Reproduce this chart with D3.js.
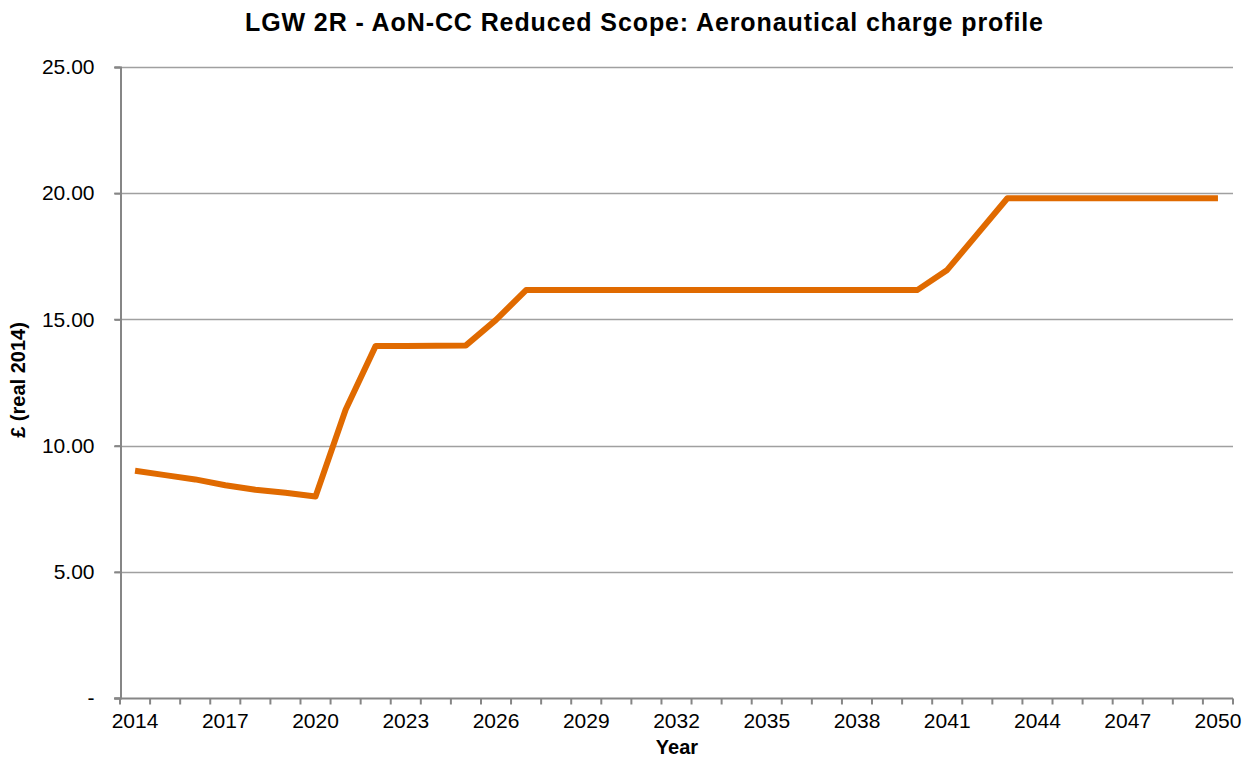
<!DOCTYPE html>
<html>
<head>
<meta charset="utf-8">
<script src="https://cdn.jsdelivr.net/npm/d3@7"></script>
<style>
	body { margin: 0; background: #fff; }
	svg { display: block; font-family: "Liberation Sans", Arial, sans-serif; }
</style>
</head>
<body>
<svg width="1249" height="760"></svg>
<script>
const lineColor = '#E06A00';
const gridColor = '#A0A0A0';
const axisColor = '#868686';

const years = d3.range(2014, 2051);
const charge = [
	9.00, 8.83, 8.66, 8.43, 8.25, 8.13, 7.98,
	11.42, 13.95, 13.95, 13.96, 13.97, 14.98, 16.16,
	16.16, 16.16, 16.16, 16.16, 16.16, 16.16, 16.16,
	16.16, 16.16, 16.16, 16.16, 16.16, 16.16, 16.96,
	18.38, 19.80, 19.80, 19.80, 19.80, 19.80, 19.80,
	19.80, 19.80
];
const yTicks = [0, 5, 10, 15, 20, 25];
const labelYears = years.filter((y) => (y - 2014) % 3 === 0);

const margin = { top: 67, right: 16, bottom: 62, left: 120 };
const svg = d3.select('svg');
const width = 1249;
const height = 760;
const plotW = width - margin.left - margin.right;
const plotH = height - margin.top - margin.bottom;

const x = d3.scaleBand()
	.domain(years)
	.range([margin.left, margin.left + plotW]);

const y = d3.scaleLinear()
	.domain([0, 25])
	.range([margin.top + plotH, margin.top]);

// gridlines
svg.append('g')
	.selectAll('line')
	.data(yTicks.filter((d) => d > 0))
	.enter()
		.append('line')
		.attr('x1', margin.left - 6)
		.attr('x2', margin.left + plotW)
		.attr('y1', (d) => Math.round(y(d)) + 0.5)
		.attr('y2', (d) => Math.round(y(d)) + 0.5)
		.attr('stroke', gridColor)
		.attr('stroke-width', 1.5);

// y axis
const yAxis = d3.axisLeft(y)
	.tickValues(yTicks)
	.tickSize(6)
	.tickPadding(20)
	.tickFormat((d) => (d === 0 ? '-' : d3.format('.2f')(d)));

svg.append('g')
	.attr('transform', `translate(${margin.left + 0.5},0)`)
	.call(yAxis)
	.call((g) => g.select('.domain').attr('stroke', axisColor).attr('stroke-width', 2))
	.call((g) => g.selectAll('.tick line').attr('stroke', axisColor).attr('stroke-width', 2))
	.call((g) => g.selectAll('.tick text')
		.attr('font-size', 21)
		.attr('fill', '#000')
		.style('font-family', '"Liberation Sans", Arial, sans-serif'));

// x axis: ticks on category boundaries, labels every 3 years
const xAxisG = svg.append('g')
	.attr('transform', `translate(0,${margin.top + plotH + 0.5})`);

xAxisG.append('line')
	.attr('x1', margin.left - 6)
	.attr('x2', margin.left + plotW)
	.attr('stroke', axisColor)
	.attr('stroke-width', 2);

const boundaries = years.map((d) => x(d)).concat([x(2050) + x.bandwidth()]);
xAxisG.selectAll('line.tk')
	.data(boundaries)
	.enter()
		.append('line')
		.attr('class', 'tk')
		.attr('x1', (d) => d)
		.attr('x2', (d) => d)
		.attr('y1', 0)
		.attr('y2', 6)
		.attr('stroke', axisColor)
		.attr('stroke-width', 2);

xAxisG.selectAll('text')
	.data(labelYears)
	.enter()
		.append('text')
		.attr('x', (d) => x(d) + x.bandwidth() / 2)
		.attr('y', 29)
		.attr('text-anchor', 'middle')
		.attr('font-size', 21)
		.text((d) => d);

// series line
const line = d3.line()
	.x((d, i) => x(years[i]) + x.bandwidth() / 2)
	.y((d) => y(d));

svg.append('path')
	.datum(charge)
	.attr('d', line)
	.attr('fill', 'none')
	.attr('stroke', lineColor)
	.attr('stroke-width', 6)
	.attr('stroke-linejoin', 'round');

// titles
svg.append('text')
	.attr('x', 644)
	.attr('y', 31)
	.attr('text-anchor', 'middle')
	.attr('font-size', 25)
	.attr('font-weight', 'bold')
	.attr('textLength', 798)
	.attr('lengthAdjust', 'spacing')
	.text('LGW 2R - AoN-CC Reduced Scope: Aeronautical charge profile');

svg.append('text')
	.attr('x', 677)
	.attr('y', 754)
	.attr('text-anchor', 'middle')
	.attr('font-size', 20)
	.attr('font-weight', 'bold')
	.text('Year');

svg.append('text')
	.attr('transform', 'translate(25,380) rotate(-90)')
	.attr('text-anchor', 'middle')
	.attr('font-size', 20)
	.attr('font-weight', 'bold')
	.text('£ (real 2014)');
</script>
</body>
</html>
